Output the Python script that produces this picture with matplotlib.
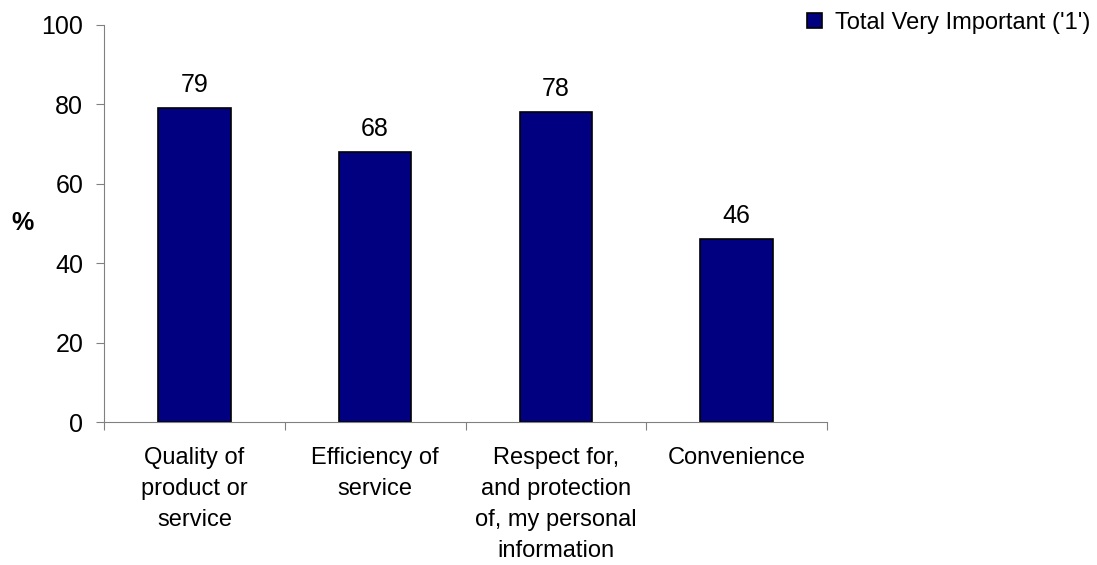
import numpy as np
import matplotlib.pyplot as plt
from matplotlib.patches import Patch

plt.rcParams['font.family'] = ['Liberation Sans', 'DejaVu Sans']

# --- data ---
categories = ["Quality of\nproduct or\nservice",
              "Efficiency of\nservice",
              "Respect for,\nand protection\nof, my personal\ninformation",
              "Convenience"]
values = [79, 68, 78, 46]
series_name = "Total Very Important ('1')"

# --- plotting ---
fig = plt.figure(figsize=(10.97, 5.65), dpi=100)
ax = fig.add_axes([104 / 1097, 1 - 422 / 565, 723 / 1097, 397 / 565])

x = np.arange(len(categories))
ax.bar(x, values, width=0.40, color='#000080', edgecolor='black', linewidth=1.2)

for xi, v in zip(x, values):
    ax.annotate(str(v), (xi, v), xytext=(0, 8), textcoords='offset points',
                ha='center', va='bottom', fontsize=18)

ax.set_xlim(-0.5, len(categories) - 0.5)
ax.set_ylim(0, 100)
ax.set_yticks(range(0, 101, 20))
ax.tick_params(axis='y', labelsize=18, direction='out', length=6, color='#808080', pad=9)

# x ticks between categories, labels centred
ax.set_xticks(np.arange(-0.5, len(categories), 1.0))
ax.set_xticklabels([])
ax.set_xticks(x, minor=True)
ax.set_xticklabels(categories, minor=True, fontsize=17, linespacing=1.52, va='top')
ax.tick_params(axis='x', which='major', direction='out', length=6, color='#808080')
ax.tick_params(axis='x', which='minor', length=0, pad=18)

for side in ['top', 'right']:
    ax.spines[side].set_visible(False)
for side in ['left', 'bottom']:
    ax.spines[side].set_color('#808080')

ax.set_ylabel('%', fontsize=18, fontweight='bold', rotation=0, va='center', ha='center')
ax.yaxis.set_label_coords(-82 / 723, 0.5)

handle = Patch(facecolor='#000080', edgecolor='black', linewidth=1.2)
fig.legend([handle], [series_name], loc='upper right',
           bbox_to_anchor=(1090 / 1097, 1 - 12 / 565),
           frameon=False, fontsize=17, handlelength=0.6, handleheight=0.6,
           handletextpad=0.55, borderpad=0, borderaxespad=0)

plt.savefig("out.png")
